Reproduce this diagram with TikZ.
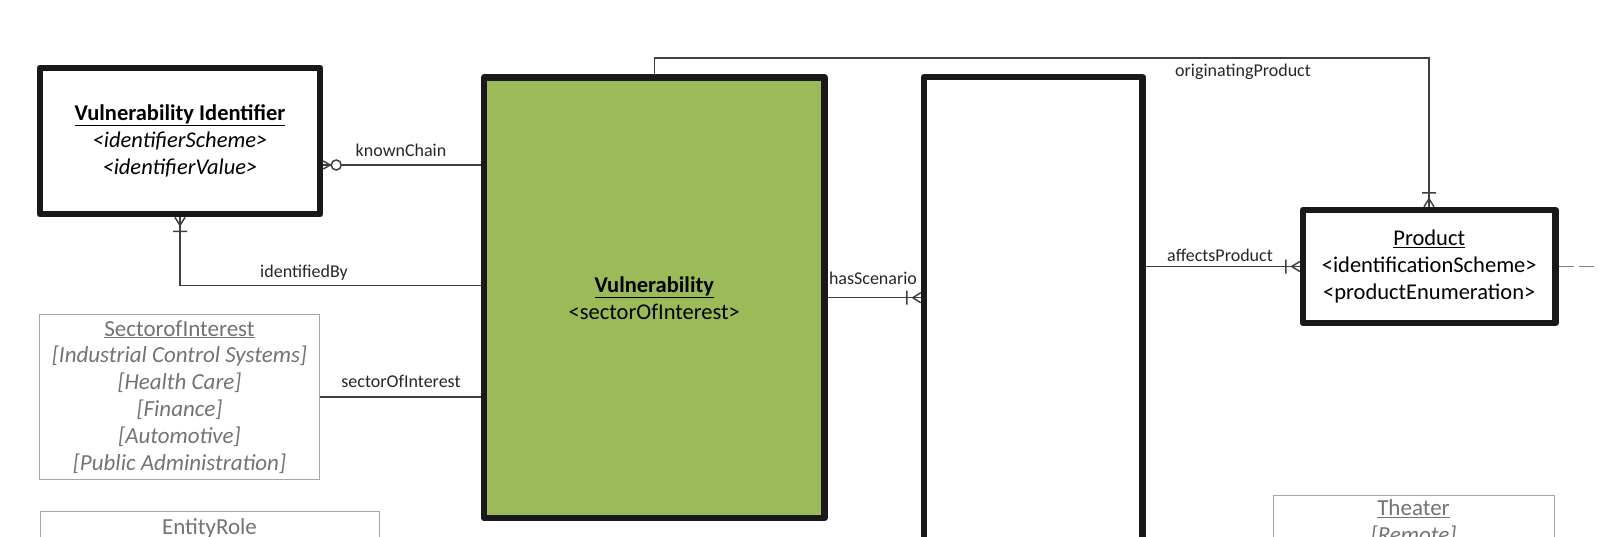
\documentclass[tikz,border=0pt]{standalone}
\usepackage{fontspec}
\setmainfont{Carlito}
\usetikzlibrary{calc}
\usetikzlibrary{decorations.markings}
\definecolor{vulngreen}{HTML}{9BBB59}
\newcommand{\entfont}{\fontsize{22.5}{27}\selectfont}
\newcommand{\valfont}{\fontsize{23}{26.8}\selectfont}
\newcommand{\relfont}{\fontsize{18}{21}\selectfont}
\tikzset{
	align=center,
	entity/.style={
		draw=black!90,
		line width=6.5pt,
		line join=round,
		rectangle,
		inner sep=0pt,
		font=\entfont,
	},
	core/.style={
		fill=vulngreen,
		draw=black,
	},
	valbox/.style={
		draw=black!35,
		line width=1pt,
		rectangle,
		inner sep=0pt,
		text=black!55,
		font=\valfont,
	},
	rel/.style={
		draw=black!75,
		line width=1.5pt,
	},
	rellabel/.style={
		inner sep=0pt,
		text=black!85,
		font=\relfont,
	},
	onemany/.style={
		postaction={decorate, decoration={markings, mark=at position 1 with {
			\draw[black!75, line width=1.5pt] (-8pt,0) -- (0,5pt) (-8pt,0) -- (0,-5pt)
				(-14pt,-7pt) -- (-14pt,7pt);
		}}}
	},
	zeromany/.style={
		postaction={decorate, decoration={markings, mark=at position 1 with {
			\draw[black!75, line width=1.5pt] (-7pt,0) -- (0,4pt) (-7pt,0) -- (0,-4pt);
			\draw[black!75, line width=1.5pt, fill=white] (-13pt,0) circle (5pt);
		}}}
	},
	extlink/.style={
		draw=black!50,
		line width=1.5pt,
		dash pattern=on 15pt off 5pt,
	},
}

\begin{document}
\begin{tikzpicture}[
		x=1pt, y=-1pt,
		core/.append style={entity},
	]
		\path[use as bounding box] (0,0) rectangle (1599,536);
		\clip (0,0) rectangle (1599,536);

		\node[entity, minimum width=280pt, minimum height=146.3pt] (idf) at (180,141) {\textbf{\underline{Vulnerability Identifier}}\\ \textit{<identifierScheme>}\\ \textit{<identifierValue>}};
		\node[core, minimum width=340.5pt, minimum height=440.6pt] (vuln) at (654.25,297.7) {\textbf{\underline{Vulnerability}}\\ <sectorOfInterest>};
		\node[entity, minimum width=218.5pt, minimum height=500pt] (scen) at (1033.25,327) {};
		\node[entity, minimum width=252.5pt, minimum height=113pt] (prod) at (1429.25,266.5) {\underline{Product}\\ <identificationScheme>\\ <productEnumeration>};

		\node[valbox, minimum width=280pt, minimum height=164.5pt] (sector) at (179.5,396.75) {\underline{SectorofInterest}\\ \textit{[Industrial Control Systems]}\\ \textit{[Health Care]}\\ \textit{[Finance]}\\ \textit{[Automotive]}\\ \textit{[Public Administration]}};
		\node[valbox, anchor=north, minimum width=339pt, inner ysep=3pt, text height=19.5pt, text depth=40pt] (role) at (209.5,511) {\underline{EntityRole}};
		\node[valbox, anchor=north, minimum width=281pt, inner ysep=3pt, text height=44pt, text depth=60pt] (theater) at (1413.5,495) {\underline{Theater}\\ \textit{[Remote]}};

%%%

		\coordinate (kc) at ([yshift=-24pt]idf.east);
		\draw[rel, zeromany] (kc -| vuln.west) -- (kc);
		\node[rellabel] (kclabel) at (401,150) {knownChain};

		\draw[rel, onemany] ([yshift=12pt]vuln.west) -| (idf.south);
		\node[rellabel] (idlabel) at (304,273) {identifiedBy};

		\draw[rel] (sector.east) -- (sector.east -| vuln.west);
		\node[rellabel] (solabel) at (401,381) {sectorOfInterest};

		\draw[rel, onemany] (vuln.east) -- (vuln.east -| scen.west);
		\node[rellabel] (hslabel) at (873,278) {hasScenario};

		\draw[rel, onemany] (prod.west -| scen.east) -- (prod.west);
		\node[rellabel] (aplabel) at (1220,255) {affectsProduct};

		\coordinate (optop) at (1429,58);
		\draw[rel, onemany] (vuln.north) |- (optop) -- (optop |- prod.north);
		\node[rellabel] (oplabel) at (1243,72) {originatingProduct};

		\coordinate (offpage) at (1615,267);
		\draw[extlink] (prod.east) -- (prod.east -| offpage);

	\end{tikzpicture}
\end{document}
